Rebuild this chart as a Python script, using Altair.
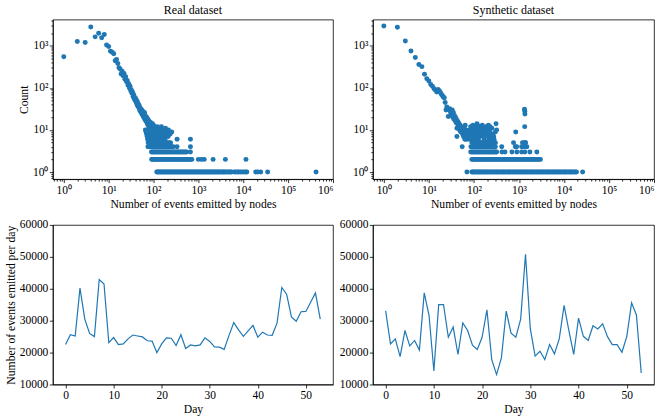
import altair as alt
import pandas as pd

FONT = "Liberation Serif"
BLUE = "#1f77b4"

# ---------------- Real dataset (events per node -> count of nodes) ----------------
real_main_x = [1, 2, 3, 4, 5, 6, 7, 8, 9, 10, 11, 12, 13, 14, 15, 16, 17, 18, 19, 20,
               21, 22, 23, 24, 25, 26, 27, 28, 29, 30, 31, 32, 33, 34, 35, 36, 37, 38, 39, 40,
               41, 42, 43, 44, 45, 46, 47, 48, 49, 50, 51, 52, 53, 54, 55, 56, 57, 58, 59, 60,
               61, 62, 63, 64, 65, 66, 67, 68, 69, 70, 71, 72, 73, 74, 75, 76, 77, 78, 79, 80,
               81, 82, 83, 84, 85, 86, 87, 88, 89, 90, 91, 92, 93, 94, 95, 96, 97, 98, 99, 100,
               103, 106, 110, 114, 118, 122, 126, 130, 136, 142, 150, 158, 166, 175, 185, 200,
               215, 235, 255]
real_main_count = [550, 1260, 1200, 2800, 1630, 2000, 1550, 1860, 1050, 960, 740, 700, 650, 440, 470,
                   380, 300, 280, 215, 250, 195, 220, 160, 185, 140, 150, 115, 125, 100, 110,
                   85, 90, 75, 80, 62, 70, 55, 60, 50, 56, 45, 50, 40, 46, 36, 41, 34, 38, 30, 33,
                   28, 32, 26, 30, 24, 29, 23, 27, 21, 25, 20, 23, 26, 18, 22, 17, 21, 19, 16, 20,
                   15, 19, 14, 18, 16, 13, 17, 15, 12, 16, 13, 15, 11, 14, 12, 15, 10, 13, 12, 14,
                   11, 13, 10, 12, 14, 11, 10, 12, 11, 13,
                   11, 12, 10, 11, 10, 12, 10, 11, 9, 10, 12, 9, 10, 9, 11, 9, 10, 8, 9]
real_row1 = [118, 124, 130, 137, 144, 152, 160, 169, 178, 188, 198, 209, 220, 232, 245, 258, 272,
             287, 303, 320, 338, 356, 376, 397, 419, 442, 466, 492, 519, 548, 578, 610, 644, 680,
             718, 758, 800, 845, 892, 942, 995, 1050, 1110, 1170, 1240, 1310, 1380, 1460, 1540,
             1630, 1720, 1820, 1920, 2030, 2150, 2270, 2400, 2540, 2690, 2850, 3000, 3200, 3400,
             3600, 3800, 4000, 4300, 4600, 4900, 5200, 5500, 6300, 6800, 7400, 8000, 8700, 9500,
             10400, 11400, 12000, 19000, 21000, 24500, 35000, 420000]
real_row2 = [91, 96, 101, 107, 113, 119, 126, 133, 141, 149, 158, 167, 177, 188, 199, 211, 224,
             238, 252, 267, 283, 300, 318, 337, 357, 378, 401, 425, 450, 477, 505, 535, 567, 601,
             637, 675, 715, 1000, 1170, 1350, 2130, 4000, 11500]
real_row3 = [90, 95, 100, 106, 112, 119, 126, 134, 142, 151, 160, 170, 181, 192, 204, 217, 231,
             246, 262, 279, 297, 316, 336, 358, 381, 405, 431, 458, 487, 518, 550, 665]
real_row4 = [75, 80, 85, 91, 97, 103, 110, 117, 125, 133, 142, 151, 161, 172, 183, 195, 208, 222,
             236, 252, 275, 335, 665]
real_row5 = [76, 82, 88, 94, 101, 108, 116, 124, 133, 143, 153, 164, 176, 189, 203, 218, 240]
real_row6 = [74, 80, 87, 94, 102, 110, 119, 129, 140, 152, 165, 180, 335, 665]
real_row7 = [72, 79, 86, 94, 102, 111, 121, 132, 144, 157, 171, 190, 212]
real_row8 = [70, 77, 84, 92, 101, 110, 120, 131, 143, 156, 170, 188, 208]
real_row9 = [68, 75, 83, 91, 100, 109, 119, 131, 145, 160]
real_row10 = [66, 73, 81, 90, 99, 108, 120, 133, 146]

# ---------------- Synthetic dataset ----------------
syn_main_x = [1, 2, 3, 4, 5, 6, 7, 8, 9, 10, 11, 12, 13, 14, 15, 16, 17, 18, 19, 20,
              21, 22, 23, 24, 25, 26, 27, 28, 29, 30, 31, 32, 33, 34, 35, 36, 37, 38, 39, 40,
              41, 42, 43, 44, 45, 46, 47, 48, 49, 50, 51, 52, 53, 54, 55, 56, 57, 58, 59, 60,
              61, 62, 63, 64, 65, 66, 67, 68, 69, 70, 72, 74, 76, 78, 80, 82]
syn_main_count = [2950, 2750, 1300, 750, 530, 360, 320, 210, 165, 145, 120, 110, 95, 88, 80, 92,
                  85, 78, 70, 66, 60, 58, 45, 30, 35, 32, 21, 30, 32, 28, 25, 22, 30, 20, 26, 18,
                  22, 17, 20, 15, 18, 11, 14, 16, 12, 14, 14, 10, 13, 12, 9, 9, 12, 11, 4, 8, 10,
                  10, 7, 7, 11, 9, 6, 13, 8, 6, 10, 8, 7, 8, 6, 9, 7, 10, 8, 6]
syn_blob_x = [42, 85, 88, 90, 92, 95, 97, 100, 103, 105, 108, 110, 113, 116, 118, 120, 123, 126,
              130, 133, 136, 140, 143, 147, 150, 154, 158, 162, 166, 170, 175, 180, 185, 190, 195,
              200, 206, 212, 218, 224, 230, 237, 245, 252, 260, 270, 280, 290, 310, 117, 250, 230,
              210, 260, 275, 300, 320, 1330, 1350, 1360, 1345, 850, 1320, 1390]
syn_blob_count = [7, 12, 9, 11, 7, 13, 8, 10, 6, 12, 9, 7, 11, 5, 8, 13, 10, 6,
                  9, 12, 7, 11, 8, 10, 5, 13, 9, 7, 11, 6, 10, 8, 12, 5, 9,
                  11, 7, 10, 6, 9, 8, 5, 7, 6, 5, 4, 6, 5, 14, 14, 11, 12,
                  13, 8, 7, 9, 10, 31, 28, 24, 12, 9, 5, 5]
syn_row1 = [70, 90, 95, 100, 106, 112, 119, 126, 134, 142, 151, 160, 170, 181, 192, 204, 217,
            231, 246, 262, 279, 297, 316, 336, 358, 381, 405, 431, 458, 487, 518, 551, 586, 623,
            663, 705, 750, 798, 849, 903, 960, 1020, 1090, 1160, 1230, 1310, 1390, 1480, 1580,
            1680, 1790, 1900, 2020, 2150, 2290, 2440, 2600, 2760, 2940, 3130, 3330, 3540, 3770,
            4010, 4270, 4540, 4830, 5140, 5470, 5820, 6190, 6590, 7010, 7460, 7940, 8450, 8990,
            9570, 10200, 10800, 11500, 12300, 13100, 13900, 14800, 15800, 16800, 17900, 19000,
            26000]
syn_row2 = [90, 96, 102, 108, 115, 122, 130, 138, 147, 156, 166, 177, 188, 200, 213, 226, 240,
            256, 272, 289, 307, 327, 348, 370, 393, 418, 445, 473, 503, 535, 569, 605, 643, 684,
            727, 773, 822, 874, 929, 988, 1050, 1120, 1190, 1260, 1340, 1430, 1520, 1620, 1720,
            1830, 1950, 2070, 2200, 2340, 2490, 2650, 2820, 3000]
syn_row3 = [85, 90, 96, 102, 108, 115, 122, 130, 138, 147, 156, 166, 177, 188, 200, 213, 226,
            240, 256, 272, 289, 307, 320, 420, 490, 700, 900, 1150, 1350, 1750, 2500]
syn_row4 = [86, 92, 98, 105, 112, 120, 128, 137, 146, 156, 167, 178, 190, 203, 217, 232, 248,
            265, 283, 300, 415, 830, 890, 1150, 1250, 1400, 1500]
syn_row5 = [90, 97, 104, 112, 120, 129, 139, 150, 161, 173, 186, 200, 215, 231, 250, 270, 300,
            760, 1200, 1400]

# ---------------- Daily event counts ----------------
days = list(range(54))
real_daily = [22500, 25600, 25200, 40200, 30500, 26000, 25000, 42900, 41500, 23100, 24700, 22500,
              22700, 24300, 25500, 25200, 24900, 23700, 23600, 20000, 22700, 24600, 24500, 22200,
              25600, 21300, 22400, 22100, 22400, 24600, 23500, 21800, 21700, 21000, 25300, 29400,
              27100, 25100, 26800, 28500, 24800, 26400, 25500, 25400, 29200, 40400, 38300, 31200,
              29800, 32800, 32900, 35800, 38700, 30500]
syn_daily = [33100, 22700, 24300, 18700, 26900, 22100, 23800, 20800, 38700, 31600, 14200, 35000,
             35000, 24800, 28000, 19400, 29300, 26900, 22300, 21000, 24800, 33400, 17800, 13100,
             18300, 33000, 26100, 24800, 30500, 50800, 27400, 18900, 20400, 17800, 22500, 19600,
             24300, 34800, 26900, 19400, 30800, 25100, 23800, 28400, 27400, 29000, 25000, 22500,
             22500, 20100, 25000, 35600, 31800, 13600]

# tick values
x_decades = [1, 10, 100, 1000, 10000, 100000, 1000000]
y_decades = [1, 10, 100, 1000]
minor_mult = [2, 3, 4, 5, 6, 7, 8, 9]
day_ticks = [0, 10, 20, 30, 40, 50]
count_ticks = [10000, 20000, 30000, 40000, 50000, 60000]


def build(main_x, main_c, rows, extra_x=(), extra_c=()):
    xs, cs = list(main_x) + list(extra_x), list(main_c) + list(extra_c)
    for cnt, vals in rows.items():
        xs += vals
        cs += [cnt] * len(vals)
    return pd.DataFrame({"x": xs, "count": cs})


real_df = build(real_main_x, real_main_count,
                {1: real_row1, 2: real_row2, 3: real_row3, 4: real_row4, 5: real_row5,
                 6: real_row6, 7: real_row7, 8: real_row8, 9: real_row9, 10: real_row10})
syn_df = build(syn_main_x, syn_main_count,
               {1: syn_row1, 2: syn_row2, 3: syn_row3, 4: syn_row4, 5: syn_row5},
               syn_blob_x, syn_blob_count)
real_line = pd.DataFrame({"day": days, "n": real_daily})
syn_line = pd.DataFrame({"day": days, "n": syn_daily})

x_vals = [m * 0.1 for m in [6, 7, 8, 9]] + \
    [m * d for d in x_decades[:-1] for m in [1] + minor_mult] + [x_decades[-1]]
y_vals = [m * 0.1 for m in [7, 8, 9]] + \
    [m * d for d in y_decades[:-1] for m in [1] + minor_mult] + [1000, 2000, 3000, 4000]

MAJOR = "abs(log(datum.value)/LN10 - round(log(datum.value)/LN10)) < 0.001"
LOGLABEL = (MAJOR + " ? '10' + substring('⁰¹²³⁴⁵⁶', round(log(datum.value)/LN10), "
            "round(log(datum.value)/LN10) + 1) : ''")
TICKSIZE = {"condition": {"test": MAJOR, "value": 3.5}, "value": 2}


def log_axis(vals, title, flush=False):
    kw = dict(values=vals, labelExpr=LOGLABEL, tickSize=TICKSIZE, labelOverlap=False,
              grid=False)
    if flush:
        kw["labelFlush"] = True
    return alt.Axis(title=title, **kw)


def scatter(df, title, ytitle, w, flush):
    return alt.Chart(df, title=alt.Title(title, fontSize=12, font=FONT, fontWeight="normal",
                                         offset=-3, color="black")).mark_circle(
        size=25, opacity=1, color=BLUE
    ).encode(
        x=alt.X("x:Q", scale=alt.Scale(type="log", domain=[0.57, 1000000], nice=False),
                axis=log_axis(x_vals, "Number of events emitted by nodes", flush)),
        y=alt.Y("count:Q", scale=alt.Scale(type="log", domain=[0.68, 4200], nice=False),
                axis=log_axis(y_vals, ytitle)),
    ).properties(width=w, height=160)


def line(df, ytitle, w):
    return alt.Chart(df).mark_line(color=BLUE, strokeWidth=1.2).encode(
        x=alt.X("day:Q", scale=alt.Scale(domain=[-2.65, 55.65], nice=False, zero=False),
                axis=alt.Axis(values=day_ticks, title="Day", grid=False)),
        y=alt.Y("n:Q", scale=alt.Scale(domain=[10000, 60000], nice=False, zero=False),
                axis=alt.Axis(values=count_ticks, format="d", title=ytitle, grid=False)),
    ).properties(width=w, height=160)


tl = scatter(real_df, "Real dataset", "Count", 281, False)
tr = scatter(syn_df, "Synthetic dataset", None, 282, True)
bl = line(real_line, "Number of events emitted per day", 281)
br = line(syn_line, None, 282)

chart = alt.concat(tl, tr, bl, br, columns=2, spacing={"row": 46, "column": 40}).properties(
    bounds="flush",
    padding={"left": 4, "top": 3, "right": 4, "bottom": 2},
    background="white",
).configure_axis(
    labelFont=FONT, labelFontSize=11.5, labelColor="black", labelPadding=1.5,
    titleFont=FONT, titleFontSize=11.7, titleFontWeight="normal", titleColor="black",
    titlePadding=3, domainColor="black", domainWidth=0.8, tickColor="black", tickWidth=0.8,
    tickSize=3.5,
).configure_view(stroke="black", strokeWidth=0.8)

chart.save("out.html", embed_options={"renderer": "svg", "actions": False})
